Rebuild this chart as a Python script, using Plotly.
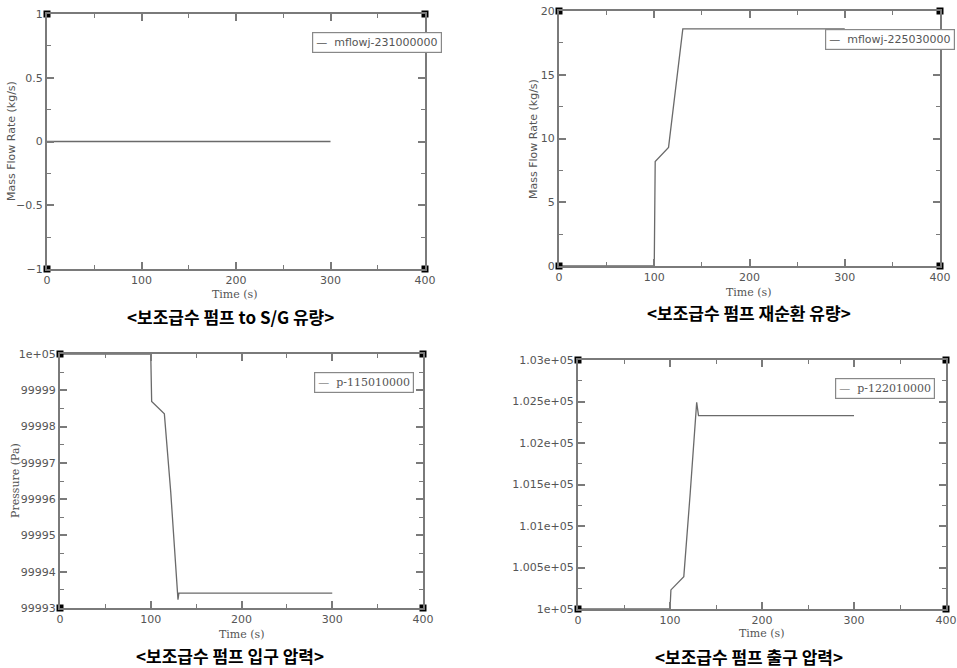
import plotly.graph_objects as go

# ---------------- data ----------------
t1 = [0, 300]
m1 = [0, 0]
name1 = "mflowj-231000000"

t2 = [0, 100, 101, 115, 130, 300]
m2 = [0, 0, 8.2, 9.3, 18.6, 18.6]
name2 = "mflowj-225030000"

t3 = [0, 100, 101, 115, 122, 130, 131, 300]
p3 = [100000, 100000, 99998.69, 99998.35, 99996.2, 99993.23, 99993.41, 99993.41]
name3 = "p-115010000"

t4 = [0, 100, 101, 115, 122, 129, 131, 300]
p4 = [100000, 100000, 100230, 100390, 101400, 102490, 102330, 102330]
name4 = "p-122010000"

captions = ["<보조급수 펌프 to S/G 유량>", "<보조급수 펌프 재순환 유량>",
            "<보조급수 펌프 입구 압력>", "<보조급수 펌프 출구 압력>"]

x_ticks = [0, 100, 200, 300, 400]
y1_ticks = [-1, -0.5, 0, 0.5, 1]
y1_text = ["−1", "−0.5", "0", "0.5", "1"]
y2_ticks = [0, 5, 10, 15, 20]
y3_ticks = [99993, 99994, 99995, 99996, 99997, 99998, 99999, 100000]
y3_text = ["99993", "99994", "99995", "99996", "99997", "99998", "99999", "1e+05"]
y4_ticks = [100000, 100500, 101000, 101500, 102000, 102500, 103000]
y4_text = ["1e+05", "1.005e+05", "1.01e+05", "1.015e+05", "1.02e+05", "1.025e+05", "1.03e+05"]

# ---------------- layout geometry ----------------
W, H = 957, 668
def px(x): return x / W
def py(y): return 1 - y / H

domains = [
    ((47, 425), (14, 269)),
    ((559, 940), (11, 266)),
    ((60, 423), (354, 608)),
    ((578, 946), (360, 609)),
]

LINE = "#6a6a6a"
FRAME = "#7a7a7a"
TXT = "#555555"
SANS = "DejaVu Sans"
SERIF = "DejaVu Serif"

fig = go.Figure()

panels = [
    (t1, m1, name1, [-1, 1], y1_ticks, y1_text, 0.25, "Mass Flow Rate (kg/s)", SANS),
    (t2, m2, name2, [0, 20], y2_ticks, [str(v) for v in y2_ticks], 2.5, "Mass Flow Rate (kg/s)", SANS),
    (t3, p3, name3, [99993, 100000], y3_ticks, y3_text, 0.5, "Pressure (Pa)", SERIF),
    (t4, p4, name4, [100000, 103000], y4_ticks, y4_text, 250, None, SERIF),
]

ytitle_pos = [(12, 141), (533, 139), (15, 481), None]
time_pos = [(235, 295), (749, 292), (242, 634), (762, 633)]
cap_pos = [(230, 316), (749, 312), (230, 655), (749, 656)]
legend_pos = [(312, 32), (825, 29), (314, 372), (835, 378)]
legend_font = [SANS, SANS, SERIF, SERIF]

annotations = []
for i, (tx, yv, nm, yr, ytv, ytt, yminor, ytitle, yfont) in enumerate(panels):
    k = "" if i == 0 else str(i + 1)
    xa, ya = "x" + k, "y" + k
    (x0, x1), (y0, y1) = domains[i]
    fig.add_trace(go.Scatter(x=tx, y=yv, mode="lines", name=nm, xaxis=xa, yaxis=ya,
                             line=dict(color=LINE, width=1.3), showlegend=False,
                             cliponaxis=False))
    # corner squares at axis range corners
    xr = [x_ticks[0], x_ticks[-1]]
    fig.add_trace(go.Scatter(x=[xr[0], xr[1], xr[0], xr[1]], y=[yr[0], yr[0], yr[1], yr[1]],
                             mode="markers", xaxis=xa, yaxis=ya, showlegend=False,
                             marker=dict(symbol="square", size=7, color="black"),
                             cliponaxis=False, hoverinfo="skip"))
    common = dict(showline=True, linecolor=FRAME, linewidth=2, mirror="allticks",
                  ticks="inside", ticklen=7, tickcolor=FRAME, tickwidth=1.5,
                  showgrid=False, zeroline=False, automargin=False,
                  tickfont=dict(family=SANS, size=11, color=TXT))
    fig.layout["xaxis" + k] = dict(domain=[px(x0), px(x1)], range=xr, anchor=ya,
                                   tickvals=x_ticks, ticktext=[str(v) for v in x_ticks],
                                   minor=dict(ticks="inside", ticklen=4, dtick=50,
                                              tickcolor=FRAME, tickwidth=1.2),
                                   **common)
    fig.layout["yaxis" + k] = dict(domain=[py(y1), py(y0)], range=yr, anchor=xa,
                                   tickvals=ytv, ticktext=ytt,
                                   minor=dict(ticks="inside", ticklen=4, dtick=yminor,
                                              tick0=yr[0], tickcolor=FRAME, tickwidth=1.2),
                                   **common)
    if ytitle:
        ax, ay = ytitle_pos[i]
        annotations.append(dict(x=px(ax), y=py(ay), xref="paper", yref="paper",
                                xanchor="center", yanchor="middle",
                                text=ytitle, textangle=-90, showarrow=False,
                                font=dict(family=yfont, size=11, color=TXT)))
    tx_, ty_ = time_pos[i]
    annotations.append(dict(x=px(tx_), y=py(ty_), xref="paper", yref="paper",
                            xanchor="center", yanchor="middle",
                            text="Time (s)", showarrow=False,
                            font=dict(family=SERIF, size=11, color=TXT)))
    cx, cy = cap_pos[i]
    annotations.append(dict(x=px(cx), y=py(cy), xref="paper", yref="paper",
                            xanchor="center", yanchor="middle",
                            text="<b>" + captions[i].replace("<", "&lt;").replace(">", "&gt;") + "</b>",
                            showarrow=False,
                            font=dict(family="Noto Sans CJK KR", size=17, color="black")))
    lx, ly = legend_pos[i]
    annotations.append(dict(x=px(lx), y=py(ly), xref="paper", yref="paper",
                            xanchor="left", yanchor="top",
                            text="—&nbsp;&nbsp;" + nm, showarrow=False,
                            bordercolor="#888888", borderwidth=1.2, borderpad=3,
                            bgcolor="white",
                            font=dict(family=legend_font[i], size=11, color=TXT)))

fig.update_layout(width=W, height=H, autosize=False,
                  margin=dict(l=0, r=0, t=0, b=0, autoexpand=False),
                  paper_bgcolor="white", plot_bgcolor="white",
                  annotations=annotations)

fig.write_html("out.html", config={"displayModeBar": False},
               post_script="document.body.style.margin='0';document.body.style.overflow='hidden';")
